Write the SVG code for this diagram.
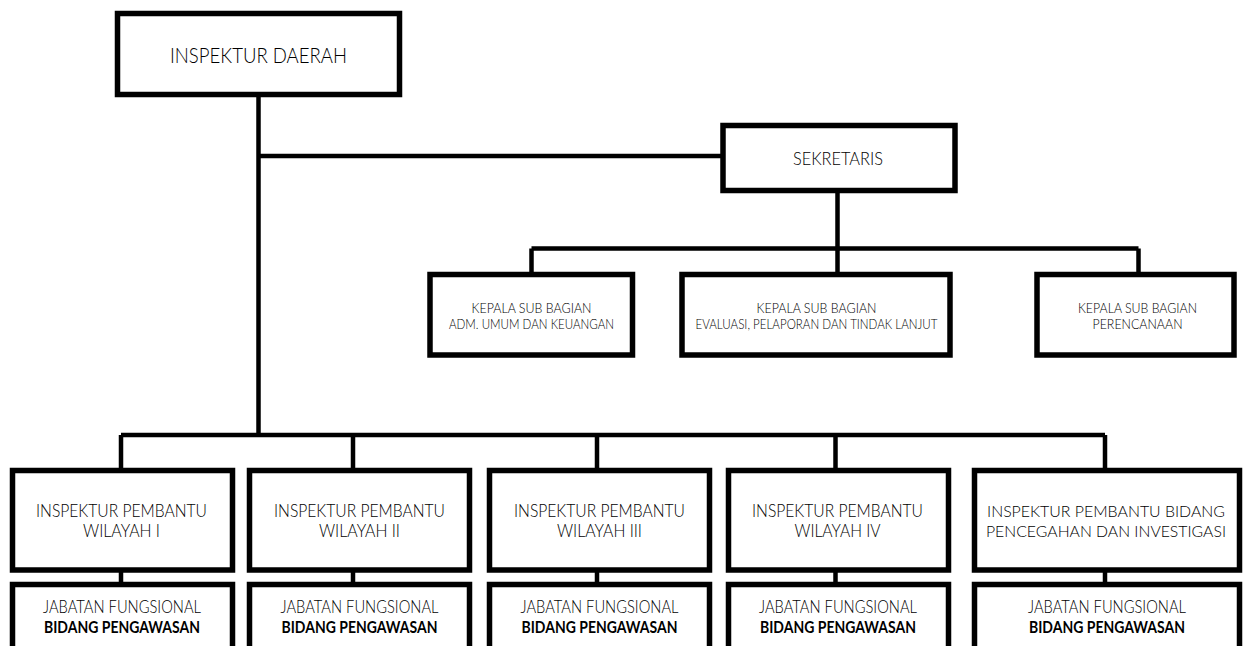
<svg xmlns="http://www.w3.org/2000/svg" width="1246" height="646" viewBox="0 0 1246 646">
<style>
.box{fill:#fff;stroke:#000;stroke-width:5.5}
.ln{fill:none;stroke:#000;stroke-width:4.5}
text{font-family:Lato,"Open Sans","Liberation Sans",sans-serif;font-weight:300;fill:#000;text-anchor:middle}
.t1{font-size:21px}
.t2{font-size:18px}
.t3{font-size:13.8px}
.t4{font-size:17.5px}
.t5{font-size:16.2px}
.b{font-weight:700;fill:#000}
</style>
<rect width="1246" height="646" fill="#fff"/>
<g id="connectors">
<path class="ln" d="M258.5 96V435M258.5 156H722"/>
<path class="ln" d="M837.5 191V272M531.5 248.5H1138.5M531.5 248.5V272M1138.5 248.5V272"/>
<path class="ln" d="M121 435H1105M121 435V470M353 435V470M597 435V470M835.5 435V470M1105 435V470"/>
<path class="ln" d="M121 570V585M353 570V585M597 570V585M835.5 570V585M1105 570V585"/>
</g>
<g id="inspektur-daerah">
<rect class="box" x="117.5" y="13.5" width="282" height="81"/>
<text class="t1" x="258.5" y="63" textLength="177" lengthAdjust="spacingAndGlyphs">INSPEKTUR DAERAH</text>
</g>
<g id="sekretaris">
<rect class="box" x="723" y="125.5" width="232" height="65"/>
<text class="t2" x="838" y="165" textLength="90" lengthAdjust="spacingAndGlyphs">SEKRETARIS</text>
</g>
<g id="kasubag-umum">
<rect class="box" x="430" y="274.5" width="202.5" height="80.5"/>
<text class="t3" x="531.5" y="312.5" textLength="120" lengthAdjust="spacingAndGlyphs">KEPALA SUB BAGIAN</text>
<text class="t3" x="531.5" y="329" textLength="165" lengthAdjust="spacingAndGlyphs">ADM. UMUM DAN KEUANGAN</text>
</g>
<g id="kasubag-evaluasi">
<rect class="box" x="682" y="274.5" width="268" height="80.5"/>
<text class="t3" x="816.5" y="312.5" textLength="120" lengthAdjust="spacingAndGlyphs">KEPALA SUB BAGIAN</text>
<text class="t3" x="816.5" y="329" textLength="242" lengthAdjust="spacingAndGlyphs">EVALUASI, PELAPORAN DAN TINDAK LANJUT</text>
</g>
<g id="kasubag-perencanaan">
<rect class="box" x="1037" y="274.5" width="197" height="80.5"/>
<text class="t3" x="1137.5" y="312.5" textLength="119" lengthAdjust="spacingAndGlyphs">KEPALA SUB BAGIAN</text>
<text class="t3" x="1137.5" y="329" textLength="90" lengthAdjust="spacingAndGlyphs">PERENCANAAN</text>
</g>
<g id="irban-1">
<rect class="box" x="12.5" y="470.5" width="220" height="99.5"/>
<text class="t4" x="121.5" y="516.5" textLength="171" lengthAdjust="spacingAndGlyphs">INSPEKTUR PEMBANTU</text>
<text class="t4" x="121.5" y="537" textLength="77" lengthAdjust="spacingAndGlyphs">WILAYAH I</text>
</g>
<g id="jf-1">
<rect class="box" x="12.5" y="584.5" width="220" height="80"/>
<text class="t4" x="122" y="613" textLength="158" lengthAdjust="spacingAndGlyphs">JABATAN FUNGSIONAL</text>
<text class="t4 b" x="122" y="633" textLength="156" lengthAdjust="spacingAndGlyphs">BIDANG PENGAWASAN</text>
</g>
<g id="irban-2">
<rect class="box" x="249.5" y="470.5" width="220" height="99.5"/>
<text class="t4" x="359.5" y="516.5" textLength="171" lengthAdjust="spacingAndGlyphs">INSPEKTUR PEMBANTU</text>
<text class="t4" x="359.5" y="537" textLength="81" lengthAdjust="spacingAndGlyphs">WILAYAH II</text>
</g>
<g id="jf-2">
<rect class="box" x="249.5" y="584.5" width="220" height="80"/>
<text class="t4" x="359.5" y="613" textLength="158" lengthAdjust="spacingAndGlyphs">JABATAN FUNGSIONAL</text>
<text class="t4 b" x="359.5" y="633" textLength="156" lengthAdjust="spacingAndGlyphs">BIDANG PENGAWASAN</text>
</g>
<g id="irban-3">
<rect class="box" x="489.5" y="470.5" width="220" height="99.5"/>
<text class="t4" x="599.5" y="516.5" textLength="171" lengthAdjust="spacingAndGlyphs">INSPEKTUR PEMBANTU</text>
<text class="t4" x="599.5" y="537" textLength="85" lengthAdjust="spacingAndGlyphs">WILAYAH III</text>
</g>
<g id="jf-3">
<rect class="box" x="489.5" y="584.5" width="220" height="80"/>
<text class="t4" x="599.5" y="613" textLength="158" lengthAdjust="spacingAndGlyphs">JABATAN FUNGSIONAL</text>
<text class="t4 b" x="599.5" y="633" textLength="156" lengthAdjust="spacingAndGlyphs">BIDANG PENGAWASAN</text>
</g>
<g id="irban-4">
<rect class="box" x="728.5" y="470.5" width="220" height="99.5"/>
<text class="t4" x="837.5" y="516.5" textLength="171" lengthAdjust="spacingAndGlyphs">INSPEKTUR PEMBANTU</text>
<text class="t4" x="837.5" y="537" textLength="86" lengthAdjust="spacingAndGlyphs">WILAYAH IV</text>
</g>
<g id="jf-4">
<rect class="box" x="728.5" y="584.5" width="220" height="80"/>
<text class="t4" x="838" y="613" textLength="158" lengthAdjust="spacingAndGlyphs">JABATAN FUNGSIONAL</text>
<text class="t4 b" x="838" y="633" textLength="156" lengthAdjust="spacingAndGlyphs">BIDANG PENGAWASAN</text>
</g>
<g id="irban-5">
<rect class="box" x="974.5" y="470.5" width="265" height="99.5"/>
<text class="t5" x="1106" y="516.5" textLength="238" lengthAdjust="spacingAndGlyphs">INSPEKTUR PEMBANTU BIDANG</text>
<text class="t5" x="1106" y="537" textLength="240" lengthAdjust="spacingAndGlyphs">PENCEGAHAN DAN INVESTIGASI</text>
</g>
<g id="jf-5">
<rect class="box" x="974.5" y="584.5" width="265" height="80"/>
<text class="t4" x="1107" y="613" textLength="158" lengthAdjust="spacingAndGlyphs">JABATAN FUNGSIONAL</text>
<text class="t4 b" x="1107" y="633" textLength="156" lengthAdjust="spacingAndGlyphs">BIDANG PENGAWASAN</text>
</g>
</svg>
